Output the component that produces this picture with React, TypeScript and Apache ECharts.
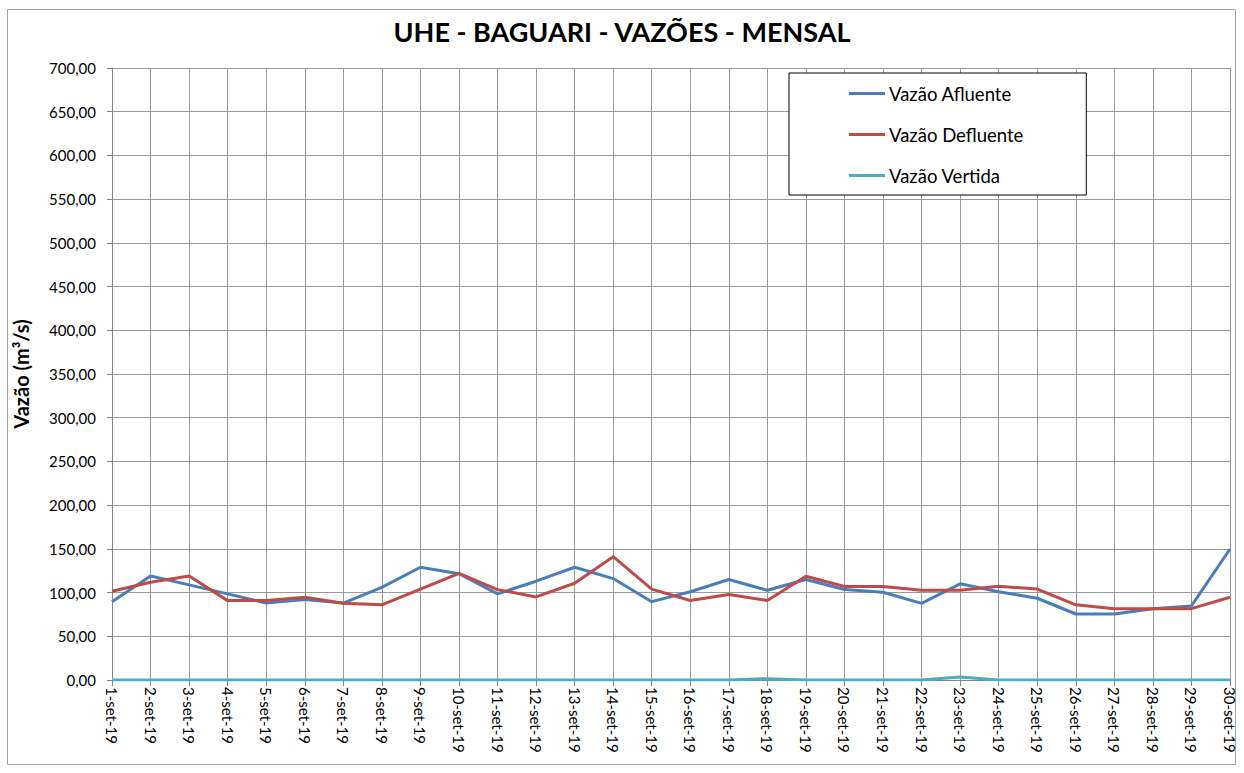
import React, { useEffect, useRef } from "react";
import * as echarts from "echarts";

const categories = [
  "1-set-19","2-set-19","3-set-19","4-set-19","5-set-19","6-set-19","7-set-19","8-set-19","9-set-19","10-set-19",
  "11-set-19","12-set-19","13-set-19","14-set-19","15-set-19","16-set-19","17-set-19","18-set-19","19-set-19","20-set-19",
  "21-set-19","22-set-19","23-set-19","24-set-19","25-set-19","26-set-19","27-set-19","28-set-19","29-set-19","30-set-19",
];
const vazaoAfluente = [
  89.6, 119, 108.8, 98.5, 88, 92, 88, 106, 129, 121.5,
  98.5, 113, 129, 116, 89.6, 101, 115, 102.6, 115, 103.4,
  100.4, 87.7, 110, 101, 93.5, 75.5, 75.5, 81.6, 84.7, 149.8,
];
const vazaoDefluente = [
  101.5, 111.8, 119, 90.8, 91, 94.6, 87.7, 86, 104, 122,
  103.4, 95, 110.7, 141, 104, 91, 97.7, 91, 118.7, 107,
  107, 102.6, 102.6, 107.3, 104, 86, 81.6, 81.6, 81.6, 94.6,
];
const vazaoVertida = [
  0, 0, 0, 0, 0, 0, 0, 0, 0, 0,
  0, 0, 0, 0, 0, 0, 0, 1.5, 0, 0,
  0, 0, 3.4, 0, 0, 0, 0, 0, 0, 0,
];

const FONT = "Lato, 'Noto Sans', sans-serif";

export default function App() {
  const ref = useRef<HTMLDivElement>(null);
  useEffect(() => {
    if (!ref.current) return;
    const chart = echarts.init(ref.current, undefined, { renderer: "svg" });
    const fmt = (v: number) => v.toFixed(2).replace(".", ",");
    chart.setOption({
      animation: false,
      backgroundColor: "#ffffff",
      title: {
        text: "UHE - BAGUARI - VAZÕES - MENSAL",
        left: "center",
        top: 13,
        textStyle: { fontFamily: FONT, fontSize: 27, fontWeight: "bold", color: "#000" },
      },
      graphic: [
        {
          type: "rect",
          shape: { x: 7.5, y: 9.5, width: 1228, height: 755 },
          style: { fill: "none", stroke: "#a6a6a6", lineWidth: 1 },
          silent: true,
        },
      ],
      legend: {
        orient: "vertical",
        left: 789,
        top: 73,
        padding: [11, 63, 10, 60],
        borderColor: "#000",
        borderWidth: 1,
        backgroundColor: "#fff",
        itemWidth: 36,
        itemHeight: 14,
        itemGap: 22,
        icon: "path://M0,6 L36,6 L36,9 L0,9 Z",
        textStyle: { fontFamily: FONT, fontSize: 18.5, color: "#000", padding: [0, 0, 0, -1] },
        data: ["Vazão Afluente", "Vazão Defluente", "Vazão Vertida"],
      },
      grid: { left: 112, right: 14, top: 68, bottom: 93, containLabel: false },
      xAxis: {
        type: "category",
        data: categories,
        boundaryGap: false,
        axisLine: { lineStyle: { color: "#868686", width: 1 } },
        axisTick: { show: true, alignWithLabel: true, length: 6, lineStyle: { color: "#868686" } },
        splitLine: { show: true, lineStyle: { color: "#9a9a9a", width: 1 } },
        axisLabel: {
          rotate: -90,
          interval: 0,
          fontFamily: FONT,
          fontSize: 15,
          color: "#000",
          margin: 7,
        },
      },
      yAxis: {
        type: "value",
        min: 0,
        max: 700,
        interval: 50,
        name: "Vazão (m³/s)",
        nameLocation: "middle",
        nameGap: 81,
        nameTextStyle: { fontFamily: FONT, fontSize: 20, fontWeight: "bold", color: "#000" },
        axisLine: { show: true, lineStyle: { color: "#868686" } },
        axisTick: { show: true, length: 5, lineStyle: { color: "#868686" } },
        splitLine: { show: true, lineStyle: { color: "#9a9a9a", width: 1 } },
        axisLabel: {
          fontFamily: FONT,
          fontSize: 15,
          color: "#000",
          margin: 16,
          formatter: (v: number) => fmt(v),
        },
      },
      series: [
        {
          name: "Vazão Afluente",
          type: "line",
          data: vazaoAfluente,
          symbol: "none",
          lineStyle: { color: "#4a7ebb", width: 3 },
          itemStyle: { color: "#4a7ebb" },
          z: 3,
        },
        {
          name: "Vazão Defluente",
          type: "line",
          data: vazaoDefluente,
          symbol: "none",
          lineStyle: { color: "#be4b48", width: 3 },
          itemStyle: { color: "#be4b48" },
          z: 4,
        },
        {
          name: "Vazão Vertida",
          type: "line",
          data: vazaoVertida,
          symbol: "none",
          lineStyle: { color: "#4bacc6", width: 3 },
          itemStyle: { color: "#4bacc6" },
          z: 5,
        },
      ],
    });
    return () => chart.dispose();
  }, []);
  return <div ref={ref} style={{ width: 1244, height: 773, position: "absolute", left: 0, top: 0 }} />;
}
